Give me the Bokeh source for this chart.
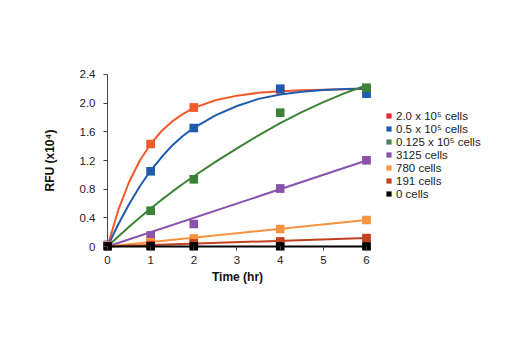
from bokeh.plotting import figure
from bokeh.models import Legend, LegendItem, FixedTicker, Range1d
from bokeh.embed import file_html
from bokeh.resources import INLINE

# ---- data ----
time_hr = [0, 1, 2, 4, 6]
series_labels = ["2.0 x 10\u2075 cells", "0.5 x 10\u2075 cells", "0.125 x 10\u2075 cells",
                 "3125 cells", "780 cells", "191 cells", "0 cells"]
rfu_200k = [0.02, 1.43, 1.94, 2.19, 2.20]
rfu_50k = [0.02, 1.05, 1.655, 2.20, 2.13]
rfu_12k = [0.01, 0.50, 0.94, 1.865, 2.215]
rfu_3125 = [0.01, 0.155, 0.315, 0.81, 1.205]
rfu_780 = [0.01, 0.06, 0.11, 0.245, 0.37]
rfu_191 = [0.0, 0.02, 0.045, 0.07, 0.12]
rfu_0 = [0.0, 0.0, 0.0, 0.0, 0.0]

# fitted curves
fit_t = [0, 0.25, 0.5, 0.75, 1, 1.25, 1.5, 1.75, 2, 2.5, 3, 3.5, 4, 4.5, 5, 5.5, 6]
fit_200k = [0, 0.51, 0.90, 1.20, 1.43, 1.61, 1.745, 1.85, 1.935, 2.04, 2.105, 2.145, 2.167, 2.18, 2.188, 2.193, 2.196]
fit_50k = [0, 0.31, 0.59, 0.84, 1.06, 1.245, 1.41, 1.545, 1.655, 1.83, 1.96, 2.06, 2.12, 2.16, 2.185, 2.197, 2.205]
fit_12k = [0, 0.14, 0.275, 0.405, 0.53, 0.65, 0.765, 0.875, 0.98, 1.18, 1.37, 1.55, 1.72, 1.875, 2.015, 2.14, 2.25]
lin_t = [0, 6]
fit_3125 = [0, 1.2]
fit_780 = [0, 0.37]
fit_191 = [0, 0.12]
fit_0 = [0, 0]

y_ticks = [0, 0.4, 0.8, 1.2, 1.6, 2.0, 2.4]
y_tick_labels = ["0", "0.4", "0.8", "1.2", "1.6", "2.0", "2.4"]
x_ticks = [0, 1, 2, 3, 4, 5, 6]

colors = ["#f25a2c", "#1f5cb0", "#3b8234", "#8a52ab", "#f7923e", "#c1401f", "#000000"]
legend_colors = ["#e8232b", "#1f5cb0", "#4b8060", "#8a52ab", "#f7923e", "#c1401f", "#000000"]

FONT = "Liberation Sans"
AXIS_COLOR = "#444444"

p = figure(frame_width=268, frame_height=180, output_backend="svg", toolbar_location=None,
           x_range=Range1d(-0.0927, 6.116), y_range=Range1d(-0.0558, 2.4558),
           min_border_left=103, min_border_top=70, min_border_bottom=10, min_border_right=10)
p.outline_line_color = None
p.xgrid.visible = False
p.ygrid.visible = False

# axis lines at zero (ticks come from the axes, which sit at the frame edges)
p.segment(x0=[x_ticks[0], x_ticks[0]], y0=[y_ticks[0], y_ticks[0]],
          x1=[x_ticks[-1], x_ticks[0]], y1=[y_ticks[0], y_ticks[-1]],
          line_color=AXIS_COLOR, line_width=1)

pts = [rfu_200k, rfu_50k, rfu_12k, rfu_3125, rfu_780, rfu_191, rfu_0]
fits = [(fit_t, fit_200k), (fit_t, fit_50k), (fit_t, fit_12k), (lin_t, fit_3125),
        (lin_t, fit_780), (lin_t, fit_191), (lin_t, fit_0)]

items = []
for i in range(7):
    fx, fy = fits[i]
    p.line(fx, fy, line_color=colors[i], line_width=2)
    leg_r = p.scatter(time_hr, pts[i], marker="square", size=8, fill_color=legend_colors[i],
                      line_color=None)
    p.scatter(time_hr, pts[i], marker="square", size=8.5, fill_color=colors[i], line_color=None)
    items.append(LegendItem(label=series_labels[i], renderers=[leg_r]))

legend = Legend(items=items, location=(11, 50), margin=0, padding=0, spacing=0,
                glyph_height=13, glyph_width=13, label_height=13, label_standoff=1,
                label_text_font=FONT, label_text_font_size="11.5px", label_text_color="#222222",
                border_line_color=None, background_fill_alpha=0)
p.add_layout(legend, "right")

for ax in (p.xaxis, p.yaxis):
    ax.axis_line_color = None
    ax.major_tick_line_color = AXIS_COLOR
    ax.minor_tick_line_color = None
    ax.major_tick_out = 0
    ax.major_tick_in = 4
    ax.major_label_text_font = FONT
    ax.major_label_text_font_size = "11.5px"
    ax.major_label_text_color = "#222222"
    ax.axis_label_text_font = FONT
    ax.axis_label_text_font_style = "bold"
    ax.axis_label_text_font_size = "12px"
    ax.axis_label_text_color = "#111111"

p.xaxis.ticker = FixedTicker(ticks=x_ticks)
p.yaxis.ticker = FixedTicker(ticks=y_ticks)
p.yaxis.major_label_overrides = {t: s for t, s in zip(y_ticks, y_tick_labels)}
p.xaxis.axis_label = "Time (hr)"
p.yaxis.axis_label = "RFU (x10\u2074)"
p.xaxis.major_label_standoff = 5
p.xaxis.axis_label_standoff = 3
p.yaxis.major_label_standoff = 8
p.yaxis.axis_label_standoff = 20

open("out.html", "w").write(file_html(p, INLINE))
